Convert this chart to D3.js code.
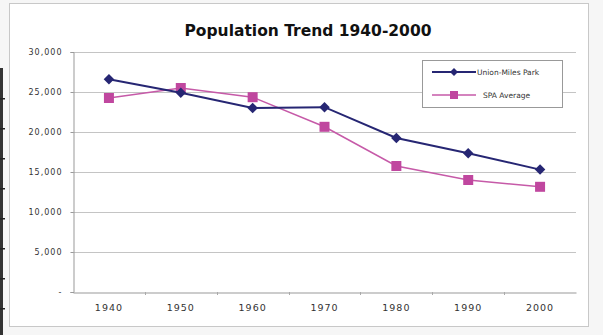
<!DOCTYPE html>
<html><head><meta charset="utf-8">
<script src="https://cdn.jsdelivr.net/npm/d3@7"></script>
<style>html,body{margin:0;padding:0;background:#f6f6f6;}svg{display:block;}</style>
</head><body>
<svg id="c" width="603" height="335"></svg>
<script>
const years = ["1940","1950","1960","1970","1980","1990","2000"];
const unionMilesPark = [26600, 24900, 23000, 23100, 19250, 17350, 15300];
const spaAverage = [24250, 25500, 24350, 20650, 15750, 14000, 13150];
const seriesNames = ["Union-Miles Park", "SPA Average"];
const yTicks = [0, 5000, 10000, 15000, 20000, 25000, 30000];
const title = "Population Trend 1940-2000";

const svg = d3.select("#c");
const font = "'DejaVu Sans', Arial, sans-serif";

// chart frame
svg.append("rect").attr("x", 9.5).attr("y", 3.5).attr("width", 579).attr("height", 323)
  .attr("fill", "#fff").attr("stroke", "#c8c8c8");

// left dark ruler bar
svg.append("rect").attr("x", 0).attr("y", 68).attr("width", 3).attr("height", 267).attr("fill", "#333");
d3.range(98, 335, 30).forEach(y => svg.append("rect").attr("x", 0).attr("y", y).attr("width", 5).attr("height", 1.5).attr("fill", "#222"));

const m = {left: 73, right: 576, top: 52, bottom: 292};
const x = d3.scaleBand().domain(years).range([m.left, m.right]);
const y = d3.scaleLinear().domain([0, 30000]).range([m.bottom, m.top]);

// gridlines
svg.append("g").selectAll("line").data(yTicks.filter(d => d > 0)).join("line")
  .attr("x1", m.left).attr("x2", m.right)
  .attr("y1", d => Math.round(y(d)) + 0.5).attr("y2", d => Math.round(y(d)) + 0.5)
  .attr("stroke", "#c4c4c4").attr("stroke-width", 1);

// y axis
const yAxis = d3.axisLeft(y).tickValues(yTicks).tickSize(3).tickPadding(8)
  .tickFormat(d => d === 0 ? "-" : d3.format(",")(d));
const gy = svg.append("g").attr("transform", `translate(${m.left + 0.5},0)`).call(yAxis);
gy.select(".domain").attr("stroke", "#999");
gy.selectAll(".tick line").attr("stroke", "#999");
gy.selectAll("text").attr("font-family", font).attr("font-size", 8).attr("letter-spacing", 1).attr("fill", "#333");

// x axis
const xAxis = d3.axisBottom(x).tickSize(0).tickPadding(12);
const gx = svg.append("g").attr("transform", `translate(0,${m.bottom + 0.5})`).call(xAxis);
gx.select(".domain").attr("stroke", "#999");
gx.selectAll("text").attr("font-family", font).attr("font-size", 9.5).attr("letter-spacing", 1).attr("fill", "#333");
// category boundary ticks
svg.append("g").selectAll("line").data(years.slice(1)).join("line")
  .attr("x1", d => Math.round(x(d)) + 0.5).attr("x2", d => Math.round(x(d)) + 0.5)
  .attr("y1", m.bottom).attr("y2", m.bottom + 3).attr("stroke", "#aaa");

// title
svg.append("text").attr("x", 308).attr("y", 35.5).attr("text-anchor", "middle")
  .attr("font-family", font).attr("font-weight", "bold").attr("font-size", 15.5).attr("fill", "#111")
  .text(title);

const cx = d => x(d) + x.bandwidth() / 2;
const line = d3.line().x((d, i) => cx(years[i])).y(d => y(d));

const navy = "#262673", magenta = "#c0479f", pinkLine = "#c65aa8";

// SPA line
svg.append("path").datum(spaAverage).attr("d", line).attr("fill", "none")
  .attr("stroke", pinkLine).attr("stroke-width", 1.6);
svg.append("g").selectAll("rect").data(spaAverage).join("rect")
  .attr("x", (d, i) => cx(years[i]) - 5).attr("y", d => y(d) - 5)
  .attr("width", 10).attr("height", 10).attr("fill", magenta);

// Union-Miles line
svg.append("path").datum(unionMilesPark).attr("d", line).attr("fill", "none")
  .attr("stroke", navy).attr("stroke-width", 2);
const diamond = d3.symbol().type(d3.symbolDiamond2).size(70);
svg.append("g").selectAll("path").data(unionMilesPark).join("path")
  .attr("d", diamond).attr("transform", (d, i) => `translate(${cx(years[i])},${y(d)})`)
  .attr("fill", navy);

// legend
const lg = svg.append("g");
lg.append("rect").attr("x", 422.5).attr("y", 60.5).attr("width", 140).attr("height", 47)
  .attr("fill", "#fff").attr("stroke", "#999");
const legendItems = [
  {name: seriesNames[0], color: navy, lc: navy, y: 72, sym: "d"},
  {name: seriesNames[1], color: magenta, lc: pinkLine, y: 95, sym: "s"}
];
legendItems.forEach(it => {
  lg.append("line").attr("x1", 432).attr("x2", 476).attr("y1", it.y).attr("y2", it.y)
    .attr("stroke", it.lc).attr("stroke-width", it.sym === "d" ? 2 : 1.6);
  if (it.sym === "d") {
    lg.append("path").attr("d", d3.symbol().type(d3.symbolDiamond2).size(40)())
      .attr("transform", `translate(454,${it.y})`).attr("fill", it.color);
  } else {
    lg.append("rect").attr("x", 450).attr("y", it.y - 4).attr("width", 8).attr("height", 8).attr("fill", it.color);
  }
  lg.append("text").attr("x", it.sym === "d" ? 477 : 483).attr("y", it.y + 2.5)
    .attr("font-family", font).attr("font-size", 7.5).attr("fill", "#333").text(it.name);
});
</script>
</body></html>
